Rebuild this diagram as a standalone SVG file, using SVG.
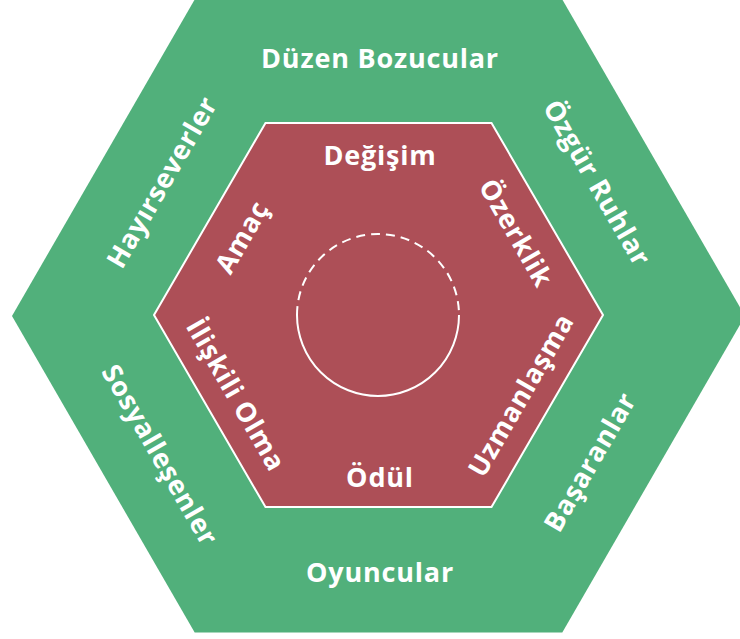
<svg xmlns="http://www.w3.org/2000/svg" width="740" height="639" viewBox="0 0 740 639">
  <style>
    .lbl { font-family: "Open Sans", "Liberation Sans", sans-serif; font-weight: 700; font-size: 27px; letter-spacing: 0.8px; fill: #ffffff; text-anchor: middle; }
    .ring { fill: none; stroke: #ffffff; stroke-width: 2; }
  </style>
  <rect width="740" height="639" fill="#ffffff"/>
  <g id="outer-hexagon">
    <polygon points="12,316 194.7,-0.5 562.3,-0.5 745,316 562.3,632.5 194.7,632.5" fill="#51B07B"/>
  </g>
  <g id="inner-hexagon">
    <polygon points="154,315 265.5,123 491.5,123 603,315 491.5,507 265.5,507" fill="#AD4F57" stroke="#ffffff" stroke-width="2"/>
  </g>
  <g id="center-circle">
    <path class="ring" d="M297,315 A81,81 0 0 1 459,315" stroke-dasharray="9,6"/>
    <path class="ring" d="M297,315 A81,81 0 0 0 459,315"/>
  </g>
  <g id="outer-labels">
    <text id="duzen-bozucular" class="lbl" x="380" y="68">Düzen Bozucular</text>
    <text id="oyuncular" class="lbl" x="380" y="582">Oyuncular</text>
    <text id="hayirseverler" class="lbl" transform="translate(162,182) rotate(-60)" dy="0.35em">Hayırseverler</text>
    <text id="ozgur-ruhlar" class="lbl" transform="translate(597,183) rotate(60)" dy="0.35em">Özgür Ruhlar</text>
    <text id="basaranlar" class="lbl" transform="translate(590,462) rotate(-60)" dy="0.35em">Başaranlar</text>
    <text id="sosyallesenler" class="lbl" transform="translate(160,455) rotate(60)" dy="0.35em">Sosyalleşenler</text>
  </g>
  <g id="inner-labels">
    <text id="degisim" class="lbl" x="380" y="165">Değişim</text>
    <text id="odul" class="lbl" x="380" y="487">Ödül</text>
    <text id="amac" class="lbl" transform="translate(242,237) rotate(-60)" dy="0.35em">Amaç</text>
    <text id="ozerklik" class="lbl" transform="translate(516,233) rotate(60)" dy="0.35em">Özerklik</text>
    <text id="iliskili-olma" class="lbl" transform="translate(236,395) rotate(60)" dy="0.35em">İlişkili Olma</text>
    <text id="uzmanlasma" class="lbl" transform="translate(521,395) rotate(-60)" dy="0.35em">Uzmanlaşma</text>
  </g>
</svg>
